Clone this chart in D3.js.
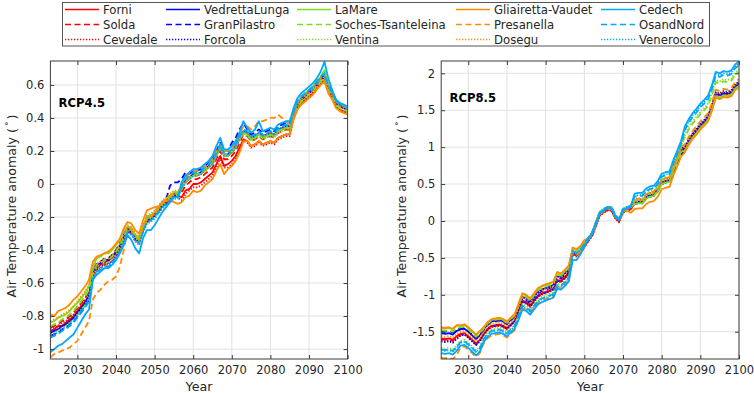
<!DOCTYPE html>
<html><head><meta charset="utf-8">
<script src="https://cdn.jsdelivr.net/npm/d3@7"></script>
<style>
body{margin:0;background:#fff}
svg{display:block;font-family:"DejaVu Sans",sans-serif}
</style>
</head><body>
<svg id="chart" width="754" height="393"></svg>
<script>
// ---------- categories / ticks ----------
const years = d3.range(2023, 2101);
const xTicks = [2030, 2040, 2050, 2060, 2070, 2080, 2090, 2100];
const yTicks45 = [-1, -0.8, -0.6, -0.4, -0.2, 0, 0.2, 0.4, 0.6];
const yTicks85 = [-1.5, -1, -0.5, 0, 0.5, 1, 1.5, 2];
const glaciers = ["Forni","Solda","Cevedale","VedrettaLunga","GranPilastro","Forcola","LaMare","Soches-Tsanteleina","Ventina","Gliairetta-Vaudet","Presanella","Dosegu","Cedech","OsandNord","Venerocolo"];
const groupColors = ["#ff0000","#0000ff","#7fdc1c","#ff8c00","#00a8ff"];
const lineStyles = ["solid","dashed","dotted"];

// ---------- RCP4.5 series ----------
const r45_Forni = [-0.89,-0.88,-0.86,-0.86,-0.84,-0.82,-0.80,-0.77,-0.74,-0.71,-0.68,-0.55,-0.51,-0.49,-0.48,-0.46,-0.45,-0.42,-0.39,-0.33,-0.28,-0.30,-0.33,-0.36,-0.28,-0.23,-0.21,-0.19,-0.17,-0.13,-0.12,-0.09,-0.08,-0.07,-0.08,-0.04,-0.03,0.00,0.00,0.01,0.03,0.05,0.07,0.12,0.17,0.11,0.12,0.14,0.17,0.22,0.27,0.26,0.23,0.24,0.26,0.24,0.25,0.26,0.25,0.28,0.29,0.30,0.30,0.40,0.46,0.49,0.51,0.53,0.55,0.58,0.61,0.63,0.56,0.52,0.47,0.45,0.44,0.43];
const r45_Solda = [-0.87,-0.86,-0.85,-0.83,-0.82,-0.80,-0.78,-0.75,-0.72,-0.69,-0.65,-0.54,-0.50,-0.48,-0.46,-0.47,-0.44,-0.41,-0.38,-0.32,-0.27,-0.28,-0.32,-0.34,-0.27,-0.21,-0.20,-0.18,-0.15,-0.12,-0.10,-0.08,-0.06,-0.06,-0.05,-0.01,0.01,0.03,0.03,0.04,0.06,0.08,0.10,0.15,0.20,0.15,0.15,0.17,0.20,0.25,0.30,0.29,0.26,0.27,0.29,0.27,0.28,0.29,0.28,0.31,0.32,0.33,0.33,0.42,0.48,0.51,0.53,0.55,0.57,0.60,0.63,0.65,0.58,0.54,0.49,0.47,0.46,0.45];
const r45_Cevedale = [-0.88,-0.87,-0.86,-0.84,-0.83,-0.81,-0.79,-0.76,-0.73,-0.70,-0.66,-0.57,-0.52,-0.51,-0.49,-0.49,-0.47,-0.44,-0.40,-0.35,-0.29,-0.30,-0.34,-0.36,-0.29,-0.23,-0.22,-0.20,-0.17,-0.14,-0.12,-0.10,-0.08,-0.08,-0.10,-0.06,-0.04,-0.02,-0.02,-0.01,0.01,0.03,0.05,0.10,0.15,0.10,0.10,0.12,0.15,0.20,0.26,0.25,0.22,0.23,0.25,0.23,0.24,0.25,0.24,0.27,0.28,0.29,0.29,0.40,0.46,0.49,0.51,0.53,0.55,0.58,0.61,0.63,0.56,0.52,0.47,0.45,0.44,0.43];
const r45_VedrettaLunga = [-0.90,-0.89,-0.88,-0.86,-0.85,-0.83,-0.81,-0.78,-0.75,-0.72,-0.68,-0.54,-0.49,-0.48,-0.46,-0.46,-0.44,-0.41,-0.37,-0.32,-0.28,-0.29,-0.33,-0.35,-0.28,-0.22,-0.21,-0.19,-0.16,-0.13,-0.11,-0.09,-0.07,-0.07,-0.02,0.02,0.04,0.06,0.06,0.07,0.09,0.11,0.13,0.18,0.23,0.18,0.18,0.20,0.23,0.28,0.32,0.31,0.28,0.29,0.31,0.29,0.30,0.31,0.30,0.33,0.34,0.35,0.35,0.43,0.49,0.52,0.54,0.56,0.58,0.61,0.64,0.66,0.59,0.55,0.50,0.48,0.47,0.46];
const r45_GranPilastro = [-0.92,-0.91,-0.90,-0.88,-0.87,-0.85,-0.83,-0.80,-0.77,-0.74,-0.70,-0.53,-0.48,-0.47,-0.45,-0.45,-0.43,-0.40,-0.36,-0.31,-0.26,-0.27,-0.31,-0.33,-0.26,-0.20,-0.19,-0.17,-0.14,-0.11,-0.09,-0.01,0.01,0.01,0.03,0.07,0.06,0.08,0.08,0.09,0.11,0.13,0.15,0.20,0.25,0.20,0.20,0.25,0.28,0.33,0.37,0.33,0.30,0.31,0.33,0.31,0.32,0.33,0.32,0.35,0.36,0.37,0.37,0.42,0.48,0.51,0.53,0.55,0.57,0.60,0.63,0.65,0.58,0.54,0.49,0.47,0.46,0.45];
const r45_Forcola = [-0.91,-0.90,-0.88,-0.87,-0.86,-0.84,-0.81,-0.79,-0.76,-0.72,-0.69,-0.57,-0.52,-0.50,-0.49,-0.48,-0.47,-0.44,-0.40,-0.35,-0.29,-0.29,-0.34,-0.35,-0.29,-0.22,-0.22,-0.19,-0.17,-0.13,-0.12,-0.09,-0.08,-0.07,-0.02,0.02,0.03,0.06,0.05,0.07,0.08,0.11,0.12,0.18,0.22,0.18,0.17,0.20,0.22,0.28,0.31,0.30,0.27,0.28,0.30,0.28,0.29,0.30,0.29,0.32,0.33,0.34,0.34,0.43,0.49,0.52,0.54,0.56,0.58,0.61,0.64,0.66,0.59,0.55,0.50,0.48,0.47,0.46];
const r45_LaMare = [-0.84,-0.83,-0.81,-0.80,-0.79,-0.77,-0.74,-0.72,-0.69,-0.66,-0.62,-0.50,-0.45,-0.44,-0.42,-0.42,-0.40,-0.37,-0.34,-0.28,-0.26,-0.27,-0.31,-0.33,-0.26,-0.20,-0.19,-0.17,-0.14,-0.11,-0.09,-0.07,-0.05,-0.05,-0.03,0.01,0.03,0.05,0.05,0.06,0.08,0.10,0.12,0.17,0.22,0.17,0.17,0.19,0.22,0.27,0.31,0.30,0.27,0.28,0.30,0.28,0.29,0.30,0.29,0.32,0.33,0.34,0.34,0.44,0.50,0.53,0.55,0.57,0.59,0.62,0.65,0.69,0.60,0.56,0.51,0.49,0.47,0.46];
const r45_Soches = [-0.86,-0.85,-0.84,-0.82,-0.81,-0.79,-0.77,-0.74,-0.71,-0.68,-0.64,-0.54,-0.49,-0.48,-0.46,-0.46,-0.44,-0.41,-0.37,-0.32,-0.27,-0.28,-0.32,-0.34,-0.27,-0.21,-0.20,-0.18,-0.15,-0.12,-0.10,-0.08,-0.06,-0.06,-0.02,0.02,0.04,0.06,0.06,0.07,0.09,0.11,0.13,0.18,0.23,0.18,0.18,0.20,0.23,0.28,0.31,0.30,0.27,0.28,0.30,0.28,0.29,0.30,0.29,0.32,0.33,0.34,0.34,0.41,0.47,0.50,0.52,0.54,0.56,0.59,0.62,0.64,0.57,0.53,0.48,0.46,0.45,0.44];
const r45_Ventina = [-0.91,-0.90,-0.89,-0.87,-0.86,-0.84,-0.82,-0.79,-0.76,-0.73,-0.69,-0.56,-0.51,-0.50,-0.48,-0.48,-0.46,-0.43,-0.39,-0.34,-0.28,-0.29,-0.33,-0.35,-0.28,-0.22,-0.21,-0.19,-0.16,-0.13,-0.11,-0.09,-0.07,-0.07,-0.03,0.01,0.03,0.05,0.05,0.06,0.08,0.10,0.12,0.17,0.22,0.17,0.17,0.19,0.22,0.27,0.30,0.29,0.26,0.27,0.29,0.27,0.28,0.29,0.28,0.31,0.32,0.33,0.33,0.40,0.46,0.49,0.51,0.53,0.55,0.58,0.61,0.63,0.56,0.52,0.47,0.45,0.44,0.43];
const r45_Gliairetta = [-0.79,-0.80,-0.77,-0.76,-0.75,-0.73,-0.70,-0.68,-0.65,-0.62,-0.58,-0.47,-0.44,-0.43,-0.42,-0.41,-0.39,-0.36,-0.33,-0.27,-0.23,-0.24,-0.28,-0.30,-0.22,-0.16,-0.15,-0.14,-0.14,-0.11,-0.10,-0.10,-0.11,-0.12,-0.11,-0.08,-0.07,-0.04,-0.05,-0.04,-0.01,0.01,0.03,0.08,0.12,0.06,0.09,0.11,0.14,0.19,0.26,0.26,0.23,0.24,0.26,0.24,0.25,0.26,0.25,0.28,0.29,0.30,0.30,0.39,0.45,0.48,0.50,0.52,0.54,0.57,0.60,0.62,0.55,0.51,0.46,0.44,0.43,0.42];
const r45_Presanella = [-1.05,-1.03,-1.02,-1.01,-1.00,-0.99,-0.97,-0.95,-0.91,-0.87,-0.83,-0.70,-0.66,-0.64,-0.61,-0.59,-0.58,-0.56,-0.50,-0.40,-0.28,-0.28,-0.32,-0.34,-0.27,-0.21,-0.20,-0.18,-0.15,-0.12,-0.10,-0.08,-0.06,-0.06,0.00,0.04,0.06,0.08,0.08,0.09,0.11,0.13,0.15,0.20,0.24,0.20,0.20,0.22,0.25,0.30,0.35,0.35,0.33,0.35,0.38,0.38,0.39,0.40,0.40,0.42,0.40,0.38,0.36,0.43,0.49,0.52,0.54,0.56,0.58,0.61,0.64,0.66,0.60,0.55,0.50,0.48,0.47,0.46];
const r45_Dosegu = [-0.83,-0.82,-0.81,-0.79,-0.78,-0.76,-0.74,-0.71,-0.68,-0.65,-0.61,-0.53,-0.48,-0.47,-0.45,-0.45,-0.43,-0.40,-0.36,-0.31,-0.25,-0.26,-0.30,-0.32,-0.25,-0.19,-0.18,-0.16,-0.13,-0.10,-0.08,-0.06,-0.04,-0.04,-0.03,0.01,0.03,0.05,0.05,0.06,0.08,0.10,0.12,0.17,0.22,0.17,0.17,0.19,0.22,0.27,0.32,0.31,0.28,0.29,0.31,0.29,0.30,0.31,0.30,0.33,0.34,0.35,0.35,0.42,0.48,0.51,0.53,0.55,0.57,0.60,0.63,0.65,0.58,0.54,0.49,0.47,0.46,0.45];
const r45_Cedech = [-1.02,-1.00,-0.98,-0.97,-0.95,-0.93,-0.91,-0.87,-0.83,-0.79,-0.76,-0.58,-0.55,-0.53,-0.51,-0.51,-0.49,-0.46,-0.42,-0.37,-0.31,-0.34,-0.39,-0.42,-0.33,-0.28,-0.28,-0.25,-0.21,-0.17,-0.14,-0.11,-0.08,-0.08,0.01,0.05,0.07,0.09,0.09,0.10,0.12,0.14,0.17,0.23,0.28,0.21,0.21,0.23,0.26,0.31,0.38,0.34,0.31,0.33,0.38,0.32,0.33,0.34,0.33,0.36,0.37,0.38,0.38,0.46,0.52,0.55,0.57,0.59,0.61,0.64,0.68,0.74,0.64,0.57,0.51,0.49,0.48,0.47];
const r45_OsandNord = [-0.93,-0.92,-0.91,-0.89,-0.88,-0.86,-0.84,-0.81,-0.78,-0.75,-0.71,-0.58,-0.53,-0.52,-0.50,-0.50,-0.48,-0.45,-0.41,-0.36,-0.29,-0.30,-0.34,-0.36,-0.29,-0.23,-0.22,-0.20,-0.17,-0.14,-0.12,-0.10,-0.08,-0.08,-0.01,0.03,0.05,0.07,0.07,0.08,0.10,0.12,0.14,0.19,0.24,0.19,0.19,0.21,0.24,0.29,0.33,0.32,0.29,0.30,0.32,0.30,0.31,0.32,0.31,0.34,0.35,0.36,0.36,0.44,0.50,0.53,0.55,0.57,0.59,0.62,0.65,0.67,0.60,0.56,0.51,0.49,0.48,0.47];
const r45_Venerocolo = [-0.92,-0.91,-0.90,-0.88,-0.87,-0.85,-0.83,-0.80,-0.77,-0.74,-0.70,-0.58,-0.53,-0.52,-0.50,-0.50,-0.48,-0.45,-0.41,-0.36,-0.30,-0.31,-0.35,-0.37,-0.30,-0.24,-0.23,-0.21,-0.18,-0.15,-0.13,-0.11,-0.09,-0.09,-0.03,0.01,0.03,0.05,0.05,0.06,0.08,0.10,0.12,0.17,0.22,0.17,0.17,0.19,0.22,0.27,0.32,0.31,0.28,0.29,0.31,0.29,0.30,0.31,0.30,0.33,0.34,0.35,0.35,0.43,0.49,0.52,0.54,0.56,0.58,0.61,0.64,0.66,0.59,0.55,0.50,0.48,0.47,0.46];

// ---------- RCP8.5 series ----------
const r85_Forni = [-1.59,-1.60,-1.59,-1.61,-1.56,-1.53,-1.52,-1.56,-1.61,-1.66,-1.61,-1.53,-1.46,-1.42,-1.41,-1.40,-1.42,-1.45,-1.40,-1.35,-1.22,-1.08,-1.10,-1.15,-1.08,-1.01,-0.98,-0.96,-0.94,-0.92,-0.80,-0.81,-0.76,-0.70,-0.45,-0.47,-0.43,-0.35,-0.27,-0.20,-0.06,0.08,0.12,0.15,0.15,0.04,-0.01,0.12,0.15,0.16,0.24,0.25,0.25,0.31,0.34,0.35,0.41,0.51,0.53,0.54,0.69,0.82,0.95,0.99,1.09,1.17,1.23,1.30,1.35,1.41,1.55,1.73,1.71,1.74,1.73,1.75,1.83,1.87];
const r85_Solda = [-1.60,-1.61,-1.60,-1.62,-1.57,-1.54,-1.53,-1.57,-1.62,-1.67,-1.62,-1.54,-1.47,-1.43,-1.42,-1.41,-1.43,-1.46,-1.41,-1.36,-1.23,-1.09,-1.11,-1.16,-1.09,-1.02,-0.99,-0.97,-0.95,-0.93,-0.81,-0.82,-0.77,-0.71,-0.44,-0.46,-0.42,-0.34,-0.26,-0.19,-0.05,0.09,0.13,0.16,0.16,0.05,0.00,0.13,0.16,0.17,0.25,0.26,0.26,0.32,0.35,0.36,0.42,0.52,0.54,0.55,0.70,0.83,0.96,0.98,1.08,1.16,1.22,1.29,1.34,1.40,1.54,1.72,1.70,1.73,1.72,1.74,1.82,1.86];
const r85_Cevedale = [-1.62,-1.63,-1.62,-1.64,-1.59,-1.55,-1.54,-1.58,-1.63,-1.68,-1.63,-1.55,-1.48,-1.44,-1.43,-1.42,-1.44,-1.47,-1.42,-1.37,-1.24,-1.10,-1.12,-1.17,-1.10,-1.03,-1.00,-0.98,-0.96,-0.94,-0.82,-0.83,-0.78,-0.72,-0.46,-0.48,-0.44,-0.36,-0.28,-0.21,-0.07,0.07,0.11,0.14,0.14,0.03,-0.02,0.11,0.14,0.15,0.24,0.25,0.25,0.31,0.34,0.35,0.41,0.51,0.53,0.54,0.69,0.82,0.95,0.97,1.07,1.15,1.21,1.28,1.33,1.39,1.53,1.71,1.69,1.72,1.71,1.73,1.81,1.85];
const r85_VedrettaLunga = [-1.52,-1.53,-1.52,-1.54,-1.49,-1.47,-1.46,-1.50,-1.55,-1.60,-1.55,-1.47,-1.40,-1.36,-1.35,-1.34,-1.36,-1.39,-1.34,-1.29,-1.17,-1.03,-1.05,-1.10,-1.03,-0.96,-0.93,-0.91,-0.89,-0.87,-0.75,-0.76,-0.71,-0.65,-0.43,-0.45,-0.41,-0.33,-0.25,-0.18,-0.04,0.10,0.14,0.17,0.17,0.06,0.01,0.14,0.17,0.18,0.25,0.26,0.26,0.32,0.35,0.36,0.42,0.52,0.54,0.55,0.70,0.83,0.96,0.99,1.09,1.17,1.23,1.30,1.35,1.41,1.55,1.73,1.71,1.74,1.73,1.75,1.83,1.87];
const r85_GranPilastro = [-1.49,-1.50,-1.49,-1.51,-1.46,-1.46,-1.45,-1.49,-1.54,-1.59,-1.54,-1.48,-1.41,-1.37,-1.36,-1.35,-1.37,-1.40,-1.35,-1.30,-1.19,-1.05,-1.07,-1.12,-1.05,-0.98,-0.95,-0.93,-0.91,-0.89,-0.77,-0.78,-0.73,-0.67,-0.42,-0.44,-0.40,-0.32,-0.24,-0.17,-0.03,0.11,0.15,0.18,0.17,0.05,0.01,0.14,0.17,0.18,0.23,0.24,0.24,0.30,0.33,0.34,0.40,0.50,0.52,0.53,0.64,0.77,0.90,0.95,1.05,1.13,1.19,1.29,1.34,1.40,1.54,1.72,1.70,1.73,1.72,1.74,1.82,1.86];
const r85_Forcola = [-1.63,-1.64,-1.63,-1.65,-1.60,-1.55,-1.54,-1.58,-1.63,-1.68,-1.63,-1.54,-1.47,-1.43,-1.42,-1.41,-1.43,-1.46,-1.41,-1.36,-1.23,-1.09,-1.11,-1.16,-1.09,-1.02,-0.99,-0.97,-0.95,-0.93,-0.81,-0.82,-0.77,-0.71,-0.43,-0.45,-0.41,-0.33,-0.25,-0.18,-0.04,0.10,0.14,0.17,0.17,0.06,0.01,0.14,0.17,0.18,0.28,0.29,0.29,0.35,0.38,0.39,0.45,0.55,0.57,0.58,0.73,0.86,0.99,1.01,1.11,1.19,1.25,1.32,1.37,1.43,1.57,1.75,1.73,1.76,1.75,1.77,1.85,1.89];
const r85_LaMare = [-1.45,-1.46,-1.45,-1.47,-1.42,-1.42,-1.41,-1.45,-1.50,-1.55,-1.50,-1.45,-1.38,-1.34,-1.33,-1.32,-1.34,-1.37,-1.32,-1.27,-1.13,-0.99,-1.01,-1.06,-0.99,-0.92,-0.89,-0.87,-0.85,-0.83,-0.69,-0.72,-0.67,-0.61,-0.38,-0.40,-0.36,-0.28,-0.23,-0.16,-0.02,0.12,0.16,0.19,0.19,0.08,0.03,0.16,0.19,0.18,0.23,0.24,0.24,0.30,0.33,0.34,0.40,0.50,0.52,0.53,0.68,0.81,0.94,0.95,1.05,1.13,1.19,1.26,1.31,1.37,1.51,1.69,1.67,1.70,1.69,1.71,1.79,1.83];
const r85_Soches = [-1.48,-1.49,-1.48,-1.50,-1.45,-1.44,-1.43,-1.47,-1.52,-1.57,-1.52,-1.46,-1.39,-1.35,-1.34,-1.33,-1.35,-1.38,-1.33,-1.28,-1.15,-1.01,-1.03,-1.08,-1.01,-0.94,-0.91,-0.89,-0.87,-0.85,-0.73,-0.74,-0.69,-0.63,-0.41,-0.43,-0.39,-0.31,-0.23,-0.16,-0.02,0.12,0.16,0.19,0.19,0.08,0.03,0.16,0.19,0.20,0.27,0.28,0.28,0.34,0.37,0.38,0.45,0.55,0.58,0.59,0.74,0.87,1.01,1.14,1.24,1.32,1.38,1.45,1.50,1.56,1.70,1.88,1.86,1.89,1.88,1.90,1.98,2.02];
const r85_Ventina = [-1.72,-1.73,-1.72,-1.74,-1.69,-1.62,-1.61,-1.65,-1.70,-1.75,-1.70,-1.58,-1.51,-1.47,-1.46,-1.45,-1.47,-1.50,-1.45,-1.40,-1.27,-1.13,-1.15,-1.20,-1.13,-1.06,-1.03,-1.01,-0.99,-0.97,-0.85,-0.86,-0.81,-0.75,-0.42,-0.44,-0.40,-0.32,-0.24,-0.17,-0.03,0.11,0.15,0.18,0.18,0.07,0.02,0.15,0.18,0.19,0.30,0.31,0.31,0.37,0.40,0.41,0.47,0.57,0.59,0.60,0.75,0.88,1.01,1.17,1.27,1.35,1.41,1.48,1.53,1.59,1.73,1.91,1.89,1.92,1.91,1.93,2.01,2.05];
const r85_Gliairetta = [-1.44,-1.45,-1.44,-1.46,-1.41,-1.41,-1.40,-1.44,-1.49,-1.54,-1.49,-1.44,-1.37,-1.33,-1.32,-1.31,-1.33,-1.36,-1.31,-1.26,-1.12,-0.98,-1.00,-1.05,-0.98,-0.91,-0.88,-0.86,-0.84,-0.82,-0.70,-0.71,-0.66,-0.60,-0.36,-0.38,-0.34,-0.26,-0.24,-0.17,-0.03,0.11,0.15,0.18,0.18,0.07,0.02,0.13,0.14,0.11,0.16,0.17,0.17,0.23,0.26,0.27,0.33,0.43,0.45,0.46,0.61,0.74,0.87,0.93,1.03,1.11,1.17,1.24,1.29,1.35,1.49,1.67,1.65,1.68,1.67,1.69,1.77,1.81];
const r85_Presanella = [-1.85,-1.86,-1.85,-1.87,-1.82,-1.71,-1.70,-1.74,-1.79,-1.84,-1.79,-1.66,-1.59,-1.55,-1.54,-1.53,-1.55,-1.58,-1.53,-1.48,-1.32,-1.18,-1.20,-1.25,-1.18,-1.11,-1.08,-1.06,-1.04,-1.02,-0.90,-0.91,-0.86,-0.80,-0.44,-0.46,-0.42,-0.34,-0.26,-0.19,-0.05,0.09,0.13,0.16,0.16,0.05,0.00,0.13,0.16,0.17,0.29,0.30,0.30,0.36,0.39,0.40,0.46,0.56,0.58,0.59,0.74,0.87,1.00,1.04,1.14,1.22,1.28,1.35,1.40,1.46,1.60,1.78,1.76,1.79,1.78,1.80,1.88,1.92];
const r85_Dosegu = [-1.56,-1.57,-1.56,-1.58,-1.53,-1.50,-1.49,-1.53,-1.58,-1.63,-1.58,-1.50,-1.43,-1.39,-1.38,-1.37,-1.39,-1.42,-1.37,-1.32,-1.18,-1.04,-1.06,-1.11,-1.04,-0.97,-0.94,-0.92,-0.90,-0.88,-0.76,-0.77,-0.72,-0.66,-0.43,-0.45,-0.41,-0.33,-0.25,-0.18,-0.04,0.10,0.14,0.17,0.17,0.06,0.01,0.14,0.17,0.18,0.26,0.27,0.27,0.33,0.36,0.37,0.43,0.53,0.55,0.56,0.71,0.84,0.97,1.00,1.10,1.18,1.24,1.31,1.36,1.42,1.56,1.74,1.72,1.75,1.74,1.76,1.84,1.88];
const r85_Cedech = [-1.79,-1.80,-1.79,-1.81,-1.76,-1.69,-1.68,-1.72,-1.77,-1.82,-1.77,-1.64,-1.57,-1.53,-1.52,-1.51,-1.53,-1.56,-1.51,-1.46,-1.34,-1.20,-1.22,-1.27,-1.20,-1.13,-1.10,-1.08,-1.06,-1.04,-0.92,-0.93,-0.88,-0.82,-0.53,-0.53,-0.45,-0.35,-0.25,-0.18,-0.04,0.10,0.14,0.17,0.17,0.06,0.01,0.14,0.17,0.19,0.37,0.38,0.38,0.44,0.47,0.48,0.54,0.64,0.66,0.67,0.82,0.95,1.08,1.28,1.38,1.46,1.52,1.59,1.64,1.70,1.84,2.02,2.00,2.03,2.02,2.04,2.12,2.16];
const r85_OsandNord = [-1.74,-1.75,-1.74,-1.76,-1.71,-1.64,-1.63,-1.67,-1.72,-1.77,-1.72,-1.60,-1.53,-1.49,-1.48,-1.47,-1.49,-1.52,-1.47,-1.42,-1.29,-1.15,-1.17,-1.22,-1.15,-1.08,-1.05,-1.03,-1.01,-0.99,-0.87,-0.88,-0.83,-0.77,-0.41,-0.43,-0.39,-0.31,-0.23,-0.16,-0.02,0.12,0.16,0.19,0.19,0.08,0.03,0.16,0.19,0.20,0.33,0.34,0.34,0.40,0.43,0.44,0.50,0.60,0.62,0.63,0.78,0.91,1.04,1.23,1.33,1.41,1.47,1.54,1.59,1.65,1.79,1.97,1.95,1.98,1.97,1.99,2.07,2.11];
const r85_Venerocolo = [-1.75,-1.76,-1.75,-1.77,-1.72,-1.65,-1.64,-1.68,-1.73,-1.78,-1.73,-1.61,-1.54,-1.50,-1.49,-1.48,-1.50,-1.53,-1.48,-1.43,-1.30,-1.16,-1.18,-1.23,-1.16,-1.09,-1.06,-1.04,-1.02,-1.00,-0.88,-0.89,-0.84,-0.78,-0.41,-0.43,-0.39,-0.31,-0.23,-0.16,-0.02,0.12,0.16,0.19,0.19,0.08,0.03,0.16,0.19,0.20,0.34,0.35,0.35,0.41,0.44,0.45,0.51,0.61,0.63,0.64,0.79,0.92,1.05,1.25,1.35,1.43,1.49,1.56,1.61,1.67,1.81,1.99,1.97,2.00,1.99,2.01,2.09,2.13];

// tables built from the arrays above (group index = column, style = row)
const rcp45 = [
  [r45_Forni, r45_Solda, r45_Cevedale],
  [r45_VedrettaLunga, r45_GranPilastro, r45_Forcola],
  [r45_LaMare, r45_Soches, r45_Ventina],
  [r45_Gliairetta, r45_Presanella, r45_Dosegu],
  [r45_Cedech, r45_OsandNord, r45_Venerocolo]
];
const rcp85 = [
  [r85_Forni, r85_Solda, r85_Cevedale],
  [r85_VedrettaLunga, r85_GranPilastro, r85_Forcola],
  [r85_LaMare, r85_Soches, r85_Ventina],
  [r85_Gliairetta, r85_Presanella, r85_Dosegu],
  [r85_Cedech, r85_OsandNord, r85_Venerocolo]
];

const svg = d3.select("#chart");
const dashOf = s => s === "dashed" ? "6,3.5" : (s === "dotted" ? "1.3,1.7" : null);
const textCol = "#262626";

function panel(cfg) {
  const g = svg.append("g");
  const x = d3.scaleLinear().domain([2023, 2100]).range([cfg.x0, cfg.x1]);
  const y = d3.scaleLinear().domain(cfg.yDomain).range([cfg.y1, cfg.y0]);

  // grid
  g.append("g").selectAll("line").data(xTicks).join("line")
    .attr("x1", d => x(d)).attr("x2", d => x(d)).attr("y1", cfg.y0).attr("y2", cfg.y1)
    .attr("stroke", "#e2e2e2").attr("stroke-width", 1);
  g.append("g").selectAll("line").data(cfg.yTicks).join("line")
    .attr("x1", cfg.x0).attr("x2", cfg.x1).attr("y1", d => y(d)).attr("y2", d => y(d))
    .attr("stroke", "#e2e2e2").attr("stroke-width", 1);

  // clip
  svg.append("clipPath").attr("id", cfg.id).append("rect")
    .attr("x", cfg.x0).attr("y", cfg.y0).attr("width", cfg.x1 - cfg.x0).attr("height", cfg.y1 - cfg.y0);

  const line = d3.line().x((d, i) => x(years[i])).y(d => y(d));
  const lg = g.append("g").attr("clip-path", `url(#${cfg.id})`);
  cfg.data.forEach((grp, gi) => {
    grp.forEach((vals, si) => {
      lg.append("path").datum(vals)
        .attr("d", line)
        .attr("fill", "none")
        .attr("stroke", groupColors[gi])
        .attr("stroke-width", 1.8)
        .attr("stroke-linejoin", "round")
        .attr("stroke-dasharray", dashOf(lineStyles[si]));
    });
  });

  // axes (ticks pointing inward, box style)
  const fmt = d => String(d);
  const ax = [];
  ax.push(g.append("g").attr("transform", `translate(0,${cfg.y1})`)
    .call(d3.axisBottom(x).tickValues(xTicks).tickSizeInner(-4).tickSizeOuter(0).tickPadding(7).tickFormat(fmt)));
  ax.push(g.append("g").attr("transform", `translate(${cfg.x0},0)`)
    .call(d3.axisLeft(y).tickValues(cfg.yTicks).tickSizeInner(-4).tickSizeOuter(0).tickPadding(6).tickFormat(fmt)));
  ax.push(g.append("g").attr("transform", `translate(0,${cfg.y0})`)
    .call(d3.axisTop(x).tickValues(xTicks).tickSizeInner(-4).tickSizeOuter(0).tickFormat("")));
  ax.push(g.append("g").attr("transform", `translate(${cfg.x1},0)`)
    .call(d3.axisRight(y).tickValues(cfg.yTicks).tickSizeInner(-4).tickSizeOuter(0).tickFormat("")));
  ax.forEach(a => {
    a.select(".domain").remove();
    a.attr("font-family", "DejaVu Sans, sans-serif").attr("font-size", 11.5);
    a.selectAll("line").attr("stroke", "#3c3c3c");
    a.selectAll("text").attr("fill", textCol);
  });
  g.append("rect").attr("x", cfg.x0).attr("y", cfg.y0)
    .attr("width", cfg.x1 - cfg.x0).attr("height", cfg.y1 - cfg.y0)
    .attr("fill", "none").attr("stroke", "#3c3c3c").attr("stroke-width", 1);

  // labels
  g.append("text").attr("x", (cfg.x0 + cfg.x1) / 2).attr("y", 391)
    .attr("text-anchor", "middle").attr("font-size", 12.7).attr("fill", textCol).text("Year");
  const yl = g.append("text")
    .attr("transform", `translate(${cfg.ylx},206) rotate(-90)`)
    .attr("text-anchor", "middle").attr("font-size", 12.7).attr("fill", textCol);
  yl.append("tspan").text("Air Temperature anomaly (");
  yl.append("tspan").attr("dx", 2).attr("dy", -4).attr("font-size", 9).text("°");
  yl.append("tspan").attr("dx", 2).attr("dy", 4).text(")");
  g.append("text").attr("x", cfg.tx).attr("y", cfg.ty)
    .attr("font-size", 11.6).attr("font-weight", "bold").attr("fill", "#000").text(cfg.title);
}

panel({id: "clip45", x0: 50.4, x1: 347.6, y0: 61, y1: 359, yDomain: [-1.06, 0.745],
       yTicks: yTicks45, data: rcp45, title: "RCP4.5", tx: 58.5, ty: 107, ylx: 16});
panel({id: "clip85", x0: 441.2, x1: 739, y0: 61, y1: 359, yDomain: [-1.87, 2.167],
       yTicks: yTicks85, data: rcp85, title: "RCP8.5", tx: 449.5, ty: 101.5, ylx: 406});

// ---------- legend ----------
const legendX = [65, 166, 297, 456, 601];
const legendRowY = [9.5, 24.5, 39.5];
const leg = svg.append("g");
leg.append("rect").attr("x", 62.5).attr("y", 2.5).attr("width", 647).attr("height", 43.5)
  .attr("fill", "#fff").attr("stroke", "#555").attr("stroke-width", 1);
glaciers.forEach((name, k) => {
  const gi = Math.floor(k / 3), si = k % 3;
  const lx = legendX[gi], ly = legendRowY[si];
  leg.append("line").attr("x1", lx).attr("x2", lx + 34).attr("y1", ly).attr("y2", ly)
    .attr("stroke", groupColors[gi]).attr("stroke-width", 1.6)
    .attr("stroke-dasharray", dashOf(lineStyles[si]));
  leg.append("text").attr("x", lx + 38).attr("y", ly).attr("dy", "0.36em")
    .attr("font-size", 11.7).attr("fill", textCol).text(name);
});
</script>
</body></html>
